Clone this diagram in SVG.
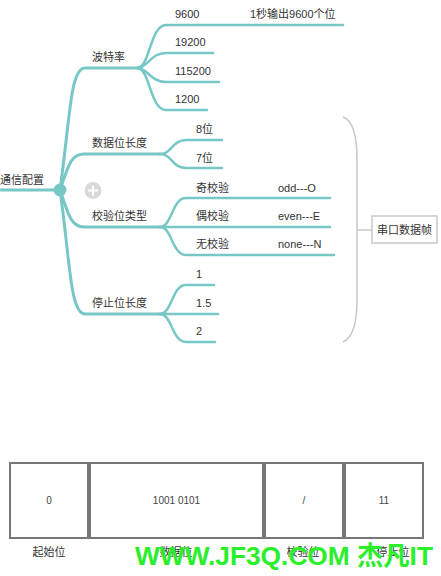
<svg xmlns="http://www.w3.org/2000/svg" width="441" height="576" viewBox="0 0 441 576">
<defs>
<style>
text{font-family:"Liberation Sans","Noto Sans CJK SC",sans-serif;font-size:11px;fill:#333}
.br{fill:none;stroke:#76c7c6;stroke-width:3;stroke-linecap:round}
.sb{fill:none;stroke:#76c7c6;stroke-width:2.5;stroke-linecap:round}
.gr{fill:none;stroke:#c8c8c8;stroke-width:1.5}
.cell{fill:#fff;stroke:#777;stroke-width:2}
.ct{font-size:10px;fill:#444;text-anchor:middle}
.lb{text-anchor:middle}
.wm{font-family:"Liberation Sans","Noto Sans CJK SC",sans-serif;font-size:26px;font-weight:bold;fill:#2aef2a}
</style>
<linearGradient id="fade" x1="0" x2="1" y1="0" y2="0">
<stop offset="0" stop-color="#76c7c6"/>
<stop offset="1" stop-color="#76c7c6" stop-opacity="0"/>
</linearGradient>
</defs>
<rect width="441" height="576" fill="#fff"/>
<g id="connectors">
<path class="br" d="M0,190 L58,190"/>
<path class="br" d="M60,190 C70,120 70,68 85,68 L137,68"/>
<path class="br" d="M60,190 C68,168 70,154 84,154 L160,154"/>
<path class="br" d="M60,190 C68,212 70,227 84,227 L160,227"/>
<path class="br" d="M60,190 C70,260 70,314 85,314 L160,314"/>
<path d="M67,190 L82,190" stroke="url(#fade)" stroke-width="3" fill="none"/>
<path class="sb" d="M137,68 C150,68 150,25 166,25 L343,25"/>
<path class="sb" d="M137,68 C148,68 150,53 166,53 L213,53"/>
<path class="sb" d="M137,68 C148,68 150,82 166,82 L219,82"/>
<path class="sb" d="M137,68 C150,68 150,110 166,110 L207,110"/>
<path class="sb" d="M160,154 C172,154 172,140 186,140 L222,140"/>
<path class="sb" d="M160,154 C172,154 172,168 186,168 L222,168"/>
<path class="sb" d="M160,227 C172,227 172,198 186,198 L330,198"/>
<path class="sb" d="M160,227 L330,227"/>
<path class="sb" d="M160,227 C172,227 172,255 186,255 L334,255"/>
<path class="sb" d="M160,314 C172,314 172,285 186,285 L214,285"/>
<path class="sb" d="M160,314 L218,314"/>
<path class="sb" d="M160,314 C172,314 172,342 186,342 L215,342"/>
<path class="gr" d="M343,117 C352,120 357,135 357,160 L357,300 C357,325 352,338 343,342"/>
<path class="gr" d="M357,230 L372,230"/>
</g>
<g id="root"><text x="0" y="184">通信配置</text><circle cx="60" cy="190" r="6.5" fill="#76c7c6"/></g>
<g id="add"><circle cx="93" cy="190.5" r="8.5" fill="#d9d9d9"/><path d="M88,190.5 H98 M93,185.5 V195.5" stroke="#fff" stroke-width="2"/></g>
<g id="n-baud"><text x="92" y="60.5">波特率</text></g>
<g id="n-9600"><text x="175" y="18">9600</text></g>
<g id="n-9600-note"><text x="250" y="18">1秒输出9600个位</text></g>
<g id="n-19200"><text x="175" y="45.5">19200</text></g>
<g id="n-115200"><text x="175" y="74.5">115200</text></g>
<g id="n-1200"><text x="175" y="103">1200</text></g>
<g id="n-data"><text x="92" y="147">数据位长度</text></g>
<g id="n-8"><text x="196" y="133">8位</text></g>
<g id="n-7"><text x="196" y="162">7位</text></g>
<g id="n-parity"><text x="92" y="220">校验位类型</text></g>
<g id="n-odd"><text x="196" y="192">奇校验</text><text x="278" y="192">odd---O</text></g>
<g id="n-even"><text x="196" y="220">偶校验</text><text x="278" y="220">even---E</text></g>
<g id="n-none"><text x="196" y="248">无校验</text><text x="278" y="248">none---N</text></g>
<g id="n-stop"><text x="92" y="307">停止位长度</text></g>
<g id="n-s1"><text x="196" y="278">1</text></g>
<g id="n-s15"><text x="196" y="306.5">1.5</text></g>
<g id="n-s2"><text x="196" y="335">2</text></g>
<g id="n-frame"><rect x="372" y="216" width="65" height="27" fill="#fff" stroke="#c8c8c8" stroke-width="1.5"/><text x="404.5" y="234" text-anchor="middle">串口数据帧</text></g>
<g id="table">
<rect class="cell" x="10" y="463" width="78" height="75"/>
<rect class="cell" x="90" y="463" width="173" height="75"/>
<rect class="cell" x="265" y="463" width="78" height="75"/>
<rect class="cell" x="345" y="463" width="78" height="75"/>
<text class="ct" x="49" y="503.5">0</text>
<text class="ct" x="176.5" y="503.5">1001 0101</text>
<text class="ct" x="304" y="503.5">/</text>
<text class="ct" x="384" y="503.5">11</text>
<text class="lb" x="49" y="555.5">起始位</text>
<text class="lb" x="176" y="555.5">数据位</text>
<text class="lb" x="303" y="555.5">校验位</text>
<text class="lb" x="393" y="555.5">停止位</text>
</g>
<text class="wm" x="135" y="565" textLength="298" lengthAdjust="spacingAndGlyphs">WWW.JF3Q.COM 杰凡IT</text>
</svg>
